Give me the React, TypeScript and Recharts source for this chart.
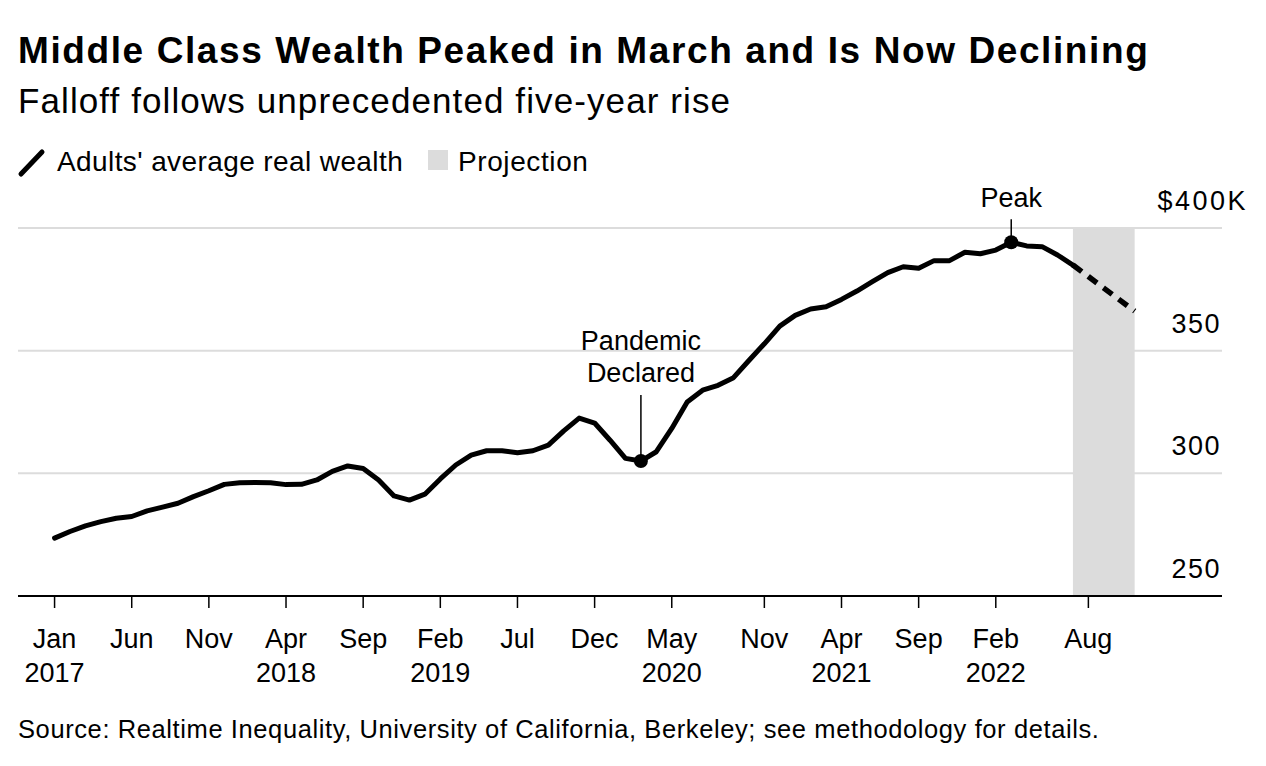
import React from "react";
import {
  LineChart,
  Line,
  XAxis,
  YAxis,
  CartesianGrid,
  ReferenceArea,
} from "recharts";

// Adults' average real wealth, $K, one value per month from Jan 2017 (month 0)
const START_YEAR = 2017;
const WEALTH = [
  273.6, 276.3, 278.6, 280.3, 281.7, 282.4, 284.7, 286.2, 287.8, 290.5, 292.9, 295.5,
  296.2, 296.3, 296.2, 295.4, 295.5, 297.3, 300.8, 303.0, 302.0, 297.3, 290.8, 289.1,
  291.5, 297.7, 303.4, 307.4, 309.2, 309.2, 308.4, 309.2, 311.5, 317.3, 322.5, 320.5,
  313.5, 306.1, 305.0, 308.8, 318.3, 329.1, 333.9, 335.9, 339.0, 346.0, 352.8, 360.0,
  364.4, 367.0, 367.9, 370.9, 374.3, 378.1, 381.8, 384.2, 383.6, 386.7, 386.7, 390.1,
  389.5, 391.0, 394.2, 392.7, 392.4, 389.0, 384.9,
];
// projection starts where the observed series ends
const PROJECTION_START = 66;
const PROJECTION = [384.9, 380.2, 375.5, 370.8, 366.1];

const MONTH_NAMES = ["Jan", "Feb", "Mar", "Apr", "May", "Jun", "Jul", "Aug", "Sep", "Oct", "Nov", "Dec"];
const X_TICKS = [0, 5, 10, 15, 20, 25, 30, 35, 40, 46, 51, 56, 61, 67];
const Y_TICKS = [250, 300, 350, 400];

const ANNOTATIONS = [
  { month: 38, lines: ["Pandemic", "Declared"] },
  { month: 62, lines: ["Peak"] },
];

const FONT = "'Liberation Sans', Arial, Helvetica, sans-serif";

const data = Array.from({ length: PROJECTION_START + PROJECTION.length }, (_, m) => ({
  m,
  wealth: m < WEALTH.length ? WEALTH[m] : null,
  proj: m >= PROJECTION_START ? PROJECTION[m - PROJECTION_START] : null,
}));

const firstTickOfYear = new Set<number>();
{
  const seen = new Set<number>();
  X_TICKS.forEach((t) => {
    const yr = START_YEAR + Math.floor(t / 12);
    if (!seen.has(yr)) {
      seen.add(yr);
      firstTickOfYear.add(t);
    }
  });
}

function XTick(props: any) {
  const { x, y, payload } = props;
  const m = payload.value;
  const year = firstTickOfYear.has(m) ? String(START_YEAR + Math.floor(m / 12)) : "";
  return (
    <g fontFamily={FONT} fontSize={27} fill="#000">
      <text x={x} y={y + 38} textAnchor="middle" fill="#000">
        {MONTH_NAMES[m % 12]}
      </text>
      {year && (
        <text x={x} y={y + 72} textAnchor="middle" fill="#000">
          {year}
        </text>
      )}
    </g>
  );
}

function YTick(props: any) {
  const { x, y, payload } = props;
  const v = payload.value;
  const top = v === Y_TICKS[Y_TICKS.length - 1];
  return (
    <text
      x={top ? x + 26 : x - 1}
      y={y - 18}
      textAnchor="end"
      fontFamily={FONT}
      fontSize={27}
      letterSpacing={top ? 2.5 : 1.5}
      fill="#000"
    >
      {top ? `$${v}K` : v}
    </text>
  );
}

function AnnotatedDot(props: any) {
  const { cx, cy, index } = props;
  const a = ANNOTATIONS.find((n) => n.month === data[index]?.m);
  if (!a || cx == null || cy == null) return <g key={`d${index}`} />;
  const two = a.lines.length > 1;
  const leaderTop = two ? cy - 66 : cy - 23;
  const firstBase = two ? cy - 111 : cy - 35;
  return (
    <g key={`d${index}`}>
      <line x1={cx} x2={cx} y1={leaderTop} y2={cy} stroke="#000" strokeWidth={1.5} />
      <circle cx={cx} cy={cy} r={7} fill="#000" />
      {a.lines.map((t, i) => (
        <text
          key={t}
          x={cx}
          y={firstBase + i * 32}
          textAnchor="middle"
          fontFamily={FONT}
          fontSize={27}
          fill="#000"
        >
          {t}
        </text>
      ))}
    </g>
  );
}

export default function App() {
  return (
    <div
      style={{
        position: "absolute",
        left: 0,
        top: 0,
        width: 1266,
        height: 766,
        background: "#fff",
        fontFamily: FONT,
        color: "#000",
        overflow: "hidden",
      }}
    >
      <div style={{ position: "absolute", left: 0, top: 0 }}>
        <LineChart
          width={1266}
          height={766}
          data={data}
          margin={{ top: 228, right: 4, bottom: 110, left: 18 }}
        >
          <CartesianGrid vertical={false} stroke="#dcdcdc" strokeWidth={2} />
          <ReferenceArea
            x1={PROJECTION_START}
            x2={PROJECTION_START + PROJECTION.length - 1}
            y1={250}
            y2={400}
            fill="#dcdcdc"
            fillOpacity={1}
            stroke="none"
          />
          <XAxis
            dataKey="m"
            type="number"
            domain={[-2.37, 75.66]}
            ticks={X_TICKS}
            interval={0}
            height={60}
            axisLine={{ stroke: "#000", strokeWidth: 2 }}
            tickLine={{ stroke: "#000", strokeWidth: 1.5 }}
            tickSize={12}
            tick={<XTick />}
            allowDataOverflow
          />
          <YAxis
            orientation="right"
            domain={[250, 400]}
            ticks={Y_TICKS}
            width={40}
            axisLine={false}
            tickLine={false}
            tickSize={0}
            tickMargin={0}
            tick={<YTick />}
          />
          <Line
            dataKey="wealth"
            type="linear"
            stroke="#000"
            strokeWidth={5}
            strokeLinejoin="round"
            strokeLinecap="round"
            dot={AnnotatedDot}
            activeDot={false}
            isAnimationActive={false}
          />
          <Line
            dataKey="proj"
            type="linear"
            stroke="#000"
            strokeWidth={5.5}
            strokeDasharray="11 8"
            dot={false}
            activeDot={false}
            isAnimationActive={false}
          />
        </LineChart>
      </div>

      <div
        style={{
          position: "absolute",
          left: 18,
          top: 32,
          fontSize: 37,
          lineHeight: "37px",
          fontWeight: 700,
          letterSpacing: 1.6,
          whiteSpace: "nowrap",
        }}
      >
        Middle Class Wealth Peaked in March and Is Now Declining
      </div>
      <div
        style={{
          position: "absolute",
          left: 18,
          top: 83,
          fontSize: 35,
          lineHeight: "35px",
          letterSpacing: 1.1,
          whiteSpace: "nowrap",
        }}
      >
        Falloff follows unprecedented five-year rise
      </div>

      <svg style={{ position: "absolute", left: 0, top: 0 }} width={700} height={200}>
        <line x1={21} y1={174} x2={42} y2={152} stroke="#000" strokeWidth={5} strokeLinecap="round" />
        <text x={57} y={171} fontFamily={FONT} fontSize={28} letterSpacing={0.4} fill="#000">
          Adults' average real wealth
        </text>
        <rect x={428} y={150} width={20} height={20} fill="#dcdcdc" />
        <text x={458} y={171} fontFamily={FONT} fontSize={28} letterSpacing={0.6} fill="#000">
          Projection
        </text>
      </svg>

      <div
        style={{
          position: "absolute",
          left: 18,
          top: 717,
          fontSize: 25.5,
          lineHeight: "25.5px",
          letterSpacing: 0.6,
          whiteSpace: "nowrap",
        }}
      >
        Source: Realtime Inequality, University of California, Berkeley; see methodology for details.
      </div>
    </div>
  );
}
